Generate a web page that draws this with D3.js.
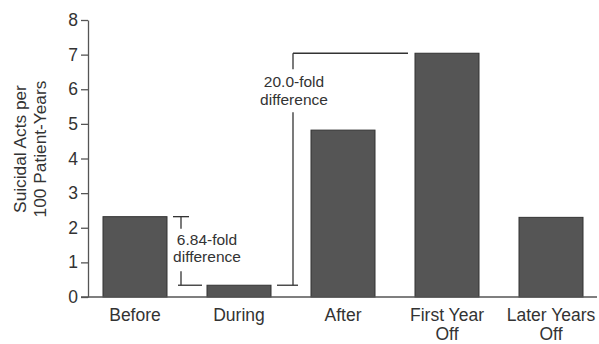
<!DOCTYPE html>
<html><head><meta charset="utf-8">
<script src="https://cdn.jsdelivr.net/npm/d3@7"></script>
<style>body{margin:0;background:#fff}svg{display:block}text{font-family:"Liberation Sans",Arial,sans-serif;fill:#333}</style>
</head><body><svg id="c" width="599" height="344"></svg>
<script>
const categories = [["Before"],["During"],["After"],["First Year","Off"],["Later Years","Off"]];
const values = [2.32, 0.34, 4.82, 7.04, 2.30];
const yTicks = [0,1,2,3,4,5,6,7,8];
const yLabel = ["Suicidal Acts per","100 Patient-Years"];
const annotations = [
  {from:0, to:1, text:["6.84-fold","difference"]},
  {from:3, to:1, text:["20.0-fold","difference"]}
];

const svg = d3.select("#c");
const keys = categories.map(c=>c.join(" "));
const x = d3.scaleBand().domain(keys).range([88,598]).paddingInner(0.3846).paddingOuter(0.1442);
const y = d3.scaleLinear().domain([0,8]).range([297,20]);
const ink = "#555";

// bars
svg.selectAll("rect.bar").data(values).join("rect")
  .attr("x",(d,i)=>x(keys[i])).attr("width",x.bandwidth())
  .attr("y",d=>y(d)).attr("height",d=>y(0)-y(d))
  .attr("fill","#555").attr("stroke","#333").attr("stroke-width",1);

// y axis
const ya = svg.append("g").attr("transform","translate(88,0)")
  .call(d3.axisLeft(y).tickValues(yTicks).tickSize(7).tickPadding(3).tickSizeOuter(0));
ya.select(".domain").attr("stroke",ink).attr("stroke-width",1.3);
ya.selectAll(".tick line").attr("stroke",ink).attr("stroke-width",1.3);
ya.selectAll(".tick text").style("font-size","17.5px").attr("fill","#333");

// baseline
svg.append("line").attr("x1",81).attr("x2",597).attr("y1",y(0)).attr("y2",y(0))
  .attr("stroke",ink).attr("stroke-width",1.3);

// category labels
categories.forEach((c,i)=>{
  const t = svg.append("text").attr("x",x(keys[i])+x.bandwidth()/2).attr("y",321)
    .attr("text-anchor","middle").style("font-size","17.5px");
  c.forEach((s,j)=>t.append("tspan").attr("x",x(keys[i])+x.bandwidth()/2).attr("dy",j?18.5:0).text(s));
});

// y label
const yl = svg.append("text").attr("transform","translate(0,149) rotate(-90)")
  .attr("text-anchor","middle").style("font-size","17.3px");
yLabel.forEach((s,j)=>yl.append("tspan").attr("x",0).attr("y",j?46:26).text(s));

// annotations
function ln(x1,y1,x2,y2){svg.append("line").attr("x1",x1).attr("y1",y1).attr("x2",x2).attr("y2",y2).attr("stroke","#333").attr("stroke-width",1.3);}
// bracket 1 (Before vs During)
{
  const a = annotations[0];
  const top = y(values[a.from]), bot = y(values[a.to]);
  const vx = x(keys[0])+x.bandwidth()+14;
  ln(vx-8, top, vx+8, top);
  ln(vx, top, vx, top+12);
  ln(vx, bot-14, vx, bot);
  ln(vx-3, bot, x(keys[1])-5, bot);
  const t = svg.append("text").attr("text-anchor","middle").style("font-size","15.5px");
  a.text.forEach((s,j)=>t.append("tspan").attr("x",vx+26).attr("y",top+28+j*17.5).text(s));
}
// bracket 2 (First Year vs During)
{
  const a = annotations[1];
  const top = y(values[a.from]), bot = y(values[a.to]);
  const vx = x(keys[1])+x.bandwidth()+22;
  ln(vx, top, x(keys[3])-7, top);
  ln(vx, top, vx, top+16);
  ln(vx, top+59, vx, bot);
  ln(vx-16, bot, vx+5, bot);
  const t = svg.append("text").attr("text-anchor","middle").style("font-size","15.5px");
  a.text.forEach((s,j)=>t.append("tspan").attr("x",vx+1).attr("y",top+34+j*18).text(s));
}
</script></body></html>
